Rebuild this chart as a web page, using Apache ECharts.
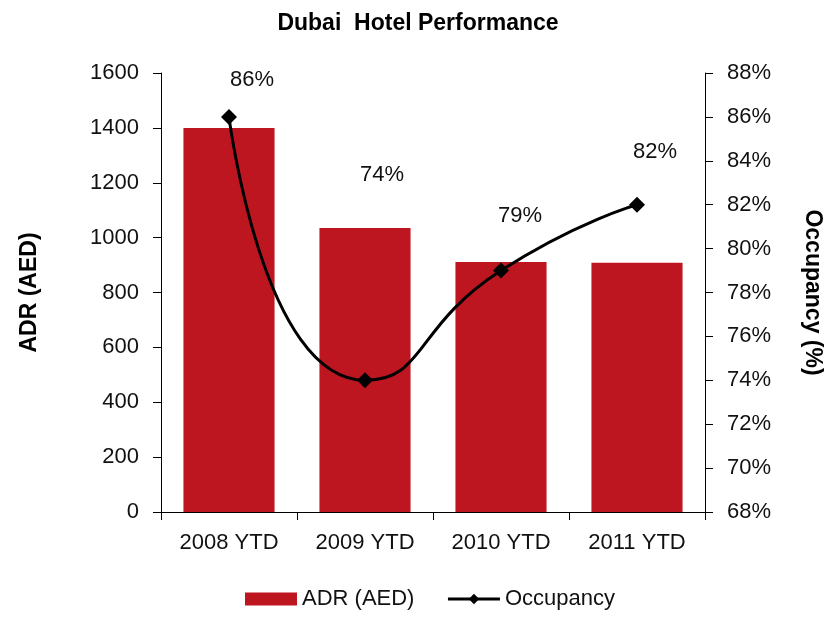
<!DOCTYPE html>
<html>
<head>
<meta charset="utf-8">
<script src="https://cdn.jsdelivr.net/npm/echarts@6/dist/echarts.min.js"></script>
<style>
  html, body { margin: 0; padding: 0; background: #fff; }
  #chart { width: 836px; height: 620px; }
</style>
</head>
<body>
<div id="chart"></div>
<script>
// 数据
const categories = ['2008 YTD', '2009 YTD', '2010 YTD', '2011 YTD'];
const adrValues = [1400, 1035, 911, 908];
const occupancyValues = [86, 74, 79, 82];
// 标签偏移（参照原图位置）
const labelOffsets = [[23, -13], [17, -181], [19, -31], [18, -29]];

const FONT = '"Liberation Sans", Arial, sans-serif';
const myChart = echarts.init(document.getElementById('chart'));

let option = {
  animation: false,
  textStyle: { fontFamily: FONT },
  title: {
    text: 'Dubai  Hotel Performance',
    left: 'center',
    top: 7,
    textStyle: { fontFamily: FONT, fontSize: 23, fontWeight: 'bold', color: '#000' }
  },
  legend: {
    bottom: 5,
    left: 240,
    itemWidth: 52,
    itemHeight: 13,
    itemGap: 32,
    textStyle: { fontFamily: FONT, fontSize: 22, color: '#111' },
    data: [
      { name: 'ADR (AED)', icon: 'rect' },
      { name: 'Occupancy', itemStyle: { color: '#000' }, lineStyle: { width: 3, color: '#000' } }
    ]
  },
  grid: { left: 161, right: 131, top: 73, bottom: 108 },
  xAxis: {
    type: 'category',
    data: categories,
    axisLine: { lineStyle: { color: '#000', width: 1 } },
    axisTick: { show: true, length: 8, lineStyle: { color: '#000' } },
    axisLabel: { fontFamily: FONT, fontSize: 22, color: '#111', margin: 20, interval: 0 }
  },
  yAxis: [
    {
      type: 'value',
      name: 'ADR (AED)',
      nameLocation: 'middle',
      nameGap: 120,
      nameTextStyle: { fontFamily: FONT, fontSize: 23, fontWeight: 'bold', color: '#000' },
      min: 0, max: 1600, interval: 200,
      axisLine: { show: true, lineStyle: { color: '#000' } },
      axisTick: { show: true, length: 8, lineStyle: { color: '#000' } },
      axisLabel: { fontFamily: FONT, fontSize: 22, color: '#111', margin: 22, formatter: v => String(v) },
      splitLine: { show: false }
    },
    {
      type: 'value',
      name: 'Occupancy (%)',
      nameLocation: 'middle',
      nameGap: 96,
      nameRotate: -90,
      nameTextStyle: { fontFamily: FONT, fontSize: 23, fontWeight: 'bold', color: '#000' },
      min: 68, max: 88, interval: 2,
      axisLine: { show: true, lineStyle: { color: '#000' } },
      axisTick: { show: true, length: 8, lineStyle: { color: '#000' } },
      axisLabel: { fontFamily: FONT, fontSize: 22, color: '#111', margin: 22, formatter: '{value}%' },
      splitLine: { show: false }
    }
  ],
  series: [
    {
      name: 'ADR (AED)',
      type: 'bar',
      data: adrValues,
      barCategoryGap: '33%',
      itemStyle: { color: '#be1621' }
    },
    {
      name: 'Occupancy',
      type: 'line',
      yAxisIndex: 1,
      smooth: 0.6,
      symbol: 'diamond',
      symbolSize: 16,
      lineStyle: { color: '#000', width: 3 },
      itemStyle: { color: '#000' },
      data: occupancyValues.map((v, i) => ({
        value: v,
        label: {
          show: true,
          position: 'top',
          offset: labelOffsets[i],
          formatter: '{c}%',
          fontFamily: FONT,
          fontSize: 22,
          color: '#111'
        }
      }))
    }
  ]
};

myChart.setOption(option);
</script>
</body>
</html>
